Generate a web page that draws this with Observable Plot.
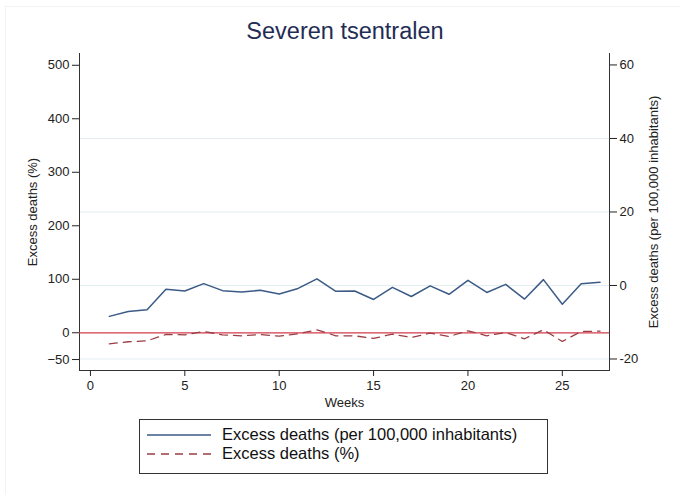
<!DOCTYPE html>
<html>
<head>
<meta charset="utf-8">
<script src="https://cdn.jsdelivr.net/npm/d3@7"></script>
<script src="https://cdn.jsdelivr.net/npm/@observablehq/plot@0.6"></script>
<style>
  body { margin: 0; background: #fff; font-family: "Liberation Sans", Arial, sans-serif; }
  #wrap { position: relative; width: 680px; height: 494px; overflow: hidden; }
  #frame { position: absolute; left: 5px; top: 6px; width: 680px; height: 500px; border: 1px solid #f3f3f3; box-sizing: border-box; }
  #title { position: absolute; left: 0; top: 18px; width: 690px; text-align: center; font-size: 23.5px; color: #1f2d55; }
  #chart { position: absolute; left: 0; top: 45px; }
  #legend { position: absolute; left: 139px; top: 419px; width: 409px; height: 55px; border: 1px solid #333; box-sizing: border-box; font-size: 16.5px; color: #111; }
  .row { position: absolute; left: 7px; display: flex; align-items: center; }
  .row svg { margin-right: 11px; }
</style>
</head>
<body>
<div id="wrap">
  <div id="frame"></div>
  <div id="title">Severen tsentralen</div>
  <div id="chart"></div>
  <div id="legend">
    <div class="row" style="top:5px"><svg width="64" height="10"><line x1="0" y1="5" x2="64" y2="5" stroke="#3b5b86" stroke-width="1.5"/></svg><span>Excess deaths (per 100,000 inhabitants)</span></div>
    <div class="row" style="top:24px"><svg width="64" height="10"><line x1="0" y1="5" x2="64" y2="5" stroke="#9b3d44" stroke-width="1.5" stroke-dasharray="8,6"/></svg><span>Excess deaths (%)</span></div>
  </div>
</div>
<script>
const weeks = [1,2,3,4,5,6,7,8,9,10,11,12,13,14,15,16,17,18,19,20,21,22,23,24,25,26,27];
const perHundredK = [-8.4,-7.1,-6.6,-1.0,-1.5,0.5,-1.4,-1.8,-1.3,-2.3,-0.8,1.8,-1.6,-1.5,-3.8,-0.5,-3.0,-0.1,-2.4,1.4,-1.9,0.3,-3.7,1.6,-5.1,0.5,0.9];
const percent = [-20.6,-16.8,-15.0,-3.2,-3.8,2.4,-3.8,-5.7,-3.2,-6.3,-1.9,5.6,-5.6,-5.6,-10.6,-2.5,-8.8,-0.7,-6.9,3.7,-5.6,0.6,-11.2,5.6,-16.2,2.4,3.0];
const leftTicks = [-50,0,100,200,300,400,500];
const rightTicks = [-20,0,20,40,60];
const gridTicks = [-20,0,20,40];
const xTicks = [0,5,10,15,20,25];
const referenceLine = [0];

// right-axis (per 100,000) values expressed in left-axis (%) units
const rightToLeft = r => 88.4 + 6.87 * r;
const leftToRight = l => (l - 88.4) / 6.87;

const blue = weeks.map((w, i) => ({week: w, value: rightToLeft(perHundredK[i])}));
const red = weeks.map((w, i) => ({week: w, value: percent[i]}));

const plot = Plot.plot({
  width: 680,
  height: 365,
  marginLeft: 79,
  marginRight: 71,
  marginTop: 8,
  marginBottom: 40,
  style: {fontFamily: "'Liberation Sans', Arial, sans-serif", fontSize: "13px", color: "#222", background: "transparent"},
  x: {domain: [-0.58, 27.5]},
  y: {domain: [-70.5, 522]},
  marks: [
    Plot.gridY(gridTicks.map(rightToLeft), {stroke: "#e3eef0", strokeOpacity: 1}),
    Plot.frame({anchor: "left", stroke: "#333"}),
    Plot.frame({anchor: "right", stroke: "#333"}),
    Plot.frame({anchor: "bottom", stroke: "#333"}),
    Plot.axisY({ticks: leftTicks, tickSize: 7, tickPadding: 3, fontSize: 13, label: "Excess deaths (%)", labelAnchor: "center", labelOffset: 52, labelArrow: "none"}),
    Plot.axisY({anchor: "right", ticks: rightTicks.map(rightToLeft), tickFormat: d => Math.round(leftToRight(d)), tickSize: 7, tickPadding: 3, fontSize: 13, label: "Excess deaths (per 100,000 inhabitants)", labelAnchor: "center", labelOffset: 48, labelArrow: "none"}),
    Plot.axisX({ticks: xTicks, tickSize: 6, tickPadding: 4, fontSize: 13, label: "Weeks", labelAnchor: "center", labelOffset: 36, labelArrow: "none"}),
    Plot.ruleY(referenceLine, {stroke: "#d23b4b", strokeWidth: 1.3}),
    Plot.line(red, {x: "week", y: "value", stroke: "#9b3d44", strokeWidth: 1.3, strokeDasharray: "8,6"}),
    Plot.line(blue, {x: "week", y: "value", stroke: "#3b5b86", strokeWidth: 1.5})
  ]
});
document.getElementById("chart").appendChild(plot);
</script>
</body>
</html>
